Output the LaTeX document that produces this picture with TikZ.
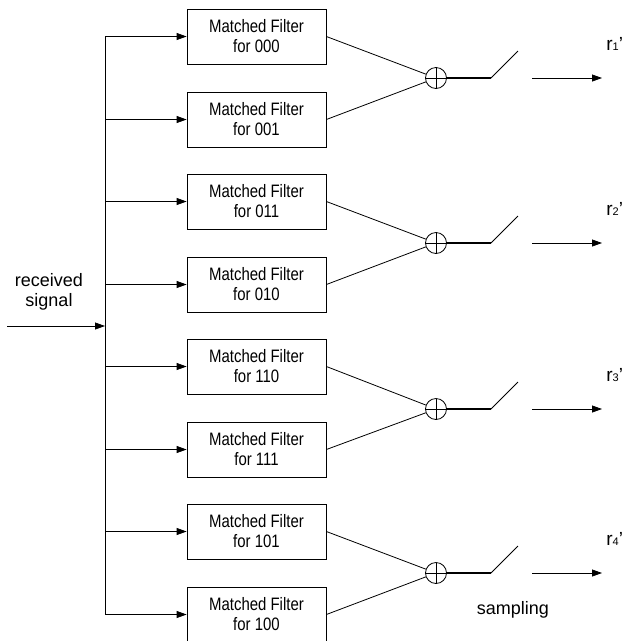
\documentclass[tikz,border=0pt]{standalone}
\usepackage{fontspec}
\setmainfont{Liberation Sans}
\newfontfamily\narrowfont[FakeStretch=0.83]{Liberation Sans}
\usetikzlibrary{positioning,calc,arrows.meta}

\begin{document}
\begin{tikzpicture}[x=1pt, y=-1pt, line width=0.8pt,
    filter/.style={draw, minimum width=139pt, minimum height=55pt, inner sep=0pt,
        align=center, font=\narrowfont\fontsize{18}{20}\selectfont},
    adder/.style={draw, circle, minimum size=21pt, inner sep=0pt,
        path picture={\draw (path picture bounding box.north) -- (path picture bounding box.south)
            (path picture bounding box.west) -- (path picture bounding box.east);}},
    arr/.style={-{Triangle[length=10pt,width=7pt]}},
    lbl/.style={font=\fontsize{18}{20}\selectfont, align=center}]
    \useasboundingbox (0,0) rectangle (626,641);

    % Filter bank
    \foreach \n/\code/\y in {1/000/36.5, 2/001/119.5, 3/011/201.5, 4/010/284.5,
                             5/110/366.5, 6/111/449.5, 7/101/531.5, 8/100/614.5} {
        \node[filter] (f\n) at (256.5,\y) {Matched Filter\\for \code};
        \coordinate (t\n) at (105,\y);
    }

    % Received signal and bus
    \coordinate (in) at (7,326);
    \coordinate (tap) at (105,326);
    \node[lbl] (rx) at (49,292) {received\\signal};
    \draw[arr] (in) -- (tap);
    \draw (t1) -- (t8);
    \foreach \n in {1,...,8} {
        \draw[arr] (t\n) -- (f\n);
    }

    % Adders and sampling switches
    \foreach \k/\a/\b/\y in {1/1/2/78, 2/3/4/243, 3/5/6/409, 4/7/8/573} {
        \node[adder] (s\k) at (436,\y) {};
        \draw (f\a.east) -- (s\k);
        \draw (f\b.east) -- (s\k);
        \coordinate (p\k) at (491,\y);
        \coordinate (q\k) at (518,\y-27);
        \coordinate (o\k) at (532,\y);
        \coordinate (e\k) at (602,\y);
        \draw[line width=1.3pt] (s\k) -- (p\k);
        \draw (p\k) -- (q\k);
        \draw[arr] (o\k) -- (e\k);
        \node[anchor=base west, inner sep=0pt, font=\fontsize{19}{19}\selectfont] (r\k) at (606,\y-28)
            {r{\fontsize{11}{11}\selectfont\k}'};
    }
    \node[lbl] (smp) at (513,610) {sampling};
\end{tikzpicture}
\end{document}
